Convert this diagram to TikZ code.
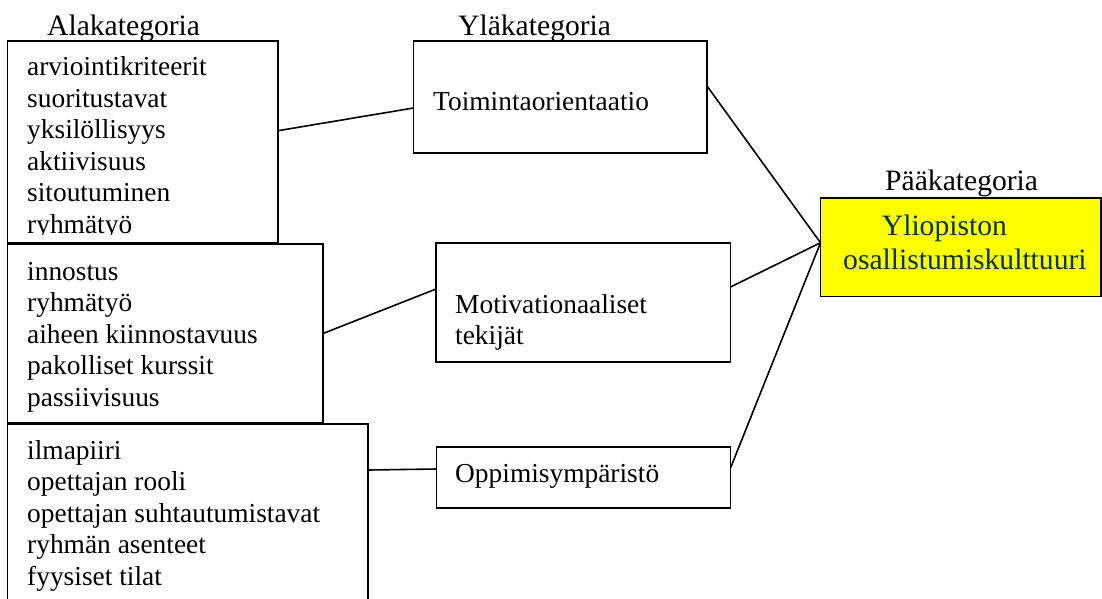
\documentclass[tikz,border=0pt]{standalone}
\usepackage{fontspec}
\setmainfont{Liberation Serif}
\definecolor{mainfill}{RGB}{255,255,0}
\definecolor{maintext}{RGB}{0,51,0}
\begin{document}
\begin{tikzpicture}[x=1pt,y=-1pt,
  box/.style={draw, line width=1.8pt, rectangle, inner sep=0pt, outer sep=0pt,
              anchor=north west, fill=white},
  body/.style={font=\fontsize{27.4}{31.5}\selectfont, inner sep=0pt, align=left},
  head/.style={font=\fontsize{29.6}{34}\selectfont, inner sep=0pt},
  link/.style={line width=1.6pt}]
\useasboundingbox (0,0) rectangle (1102,598);

% column headings
\node[head, anchor=base west] (hAla) at (47,35) {Alakategoria};
\node[head, anchor=base west] (hYla) at (458,35) {Yläkategoria};
\node[head, anchor=base west] (hPaa) at (885,190) {Pääkategoria};

% sub-category lists
\node[box, minimum width=270.5pt, minimum height=202pt] (subA) at (7.5,41) {};
\begin{scope}
  \clip (7.5,41) rectangle (278,234.5);
  \node[body, anchor=north west] (subAtxt) at (27,53.25)
    {\strut arviointikriteerit\\ \strut suoritustavat\\ \strut yksilöllisyys\\
     \strut aktiivisuus\\ \strut sitoutuminen\\ \strut ryhmätyö};
\end{scope}

\node[box, minimum width=315.5pt, minimum height=179pt] (subB) at (7.5,244) {};
\node[body, anchor=north west] (subBtxt) at (27,257.95)
  {\strut innostus\\ \strut ryhmätyö\\ \strut aiheen kiinnostavuus\\
   \strut pakolliset kurssit\\ \strut passiivisuus};

\node[box, minimum width=360.5pt, minimum height=196pt] (subC) at (7.5,424) {};
\node[body, anchor=north west] (subCtxt) at (27,436.95)
  {\strut ilmapiiri\\ \strut opettajan rooli\\ \strut opettajan suhtautumistavat\\
   \strut ryhmän asenteet\\ \strut fyysiset tilat};

% upper categories
\node[box, minimum width=293.5pt, minimum height=112pt] (upA) at (413.5,41) {};
\node[body, anchor=base west] (upAtxt) at (433,110) {Toimintaorientaatio};

\node[box, minimum width=294.5pt, minimum height=119pt] (upB) at (436,243) {};
\node[body, anchor=north west] (upBtxt) at (455,290.95)
  {\strut Motivationaaliset\\ \strut tekijät};

\node[box, minimum width=294pt, minimum height=61pt] (upC) at (436.5,447) {};
\node[body, anchor=base west] (upCtxt) at (455,482) {Oppimisympäristö};

% main category
\node[box, fill=mainfill, minimum width=280.5pt, minimum height=98.5pt] (main) at (820.5,198) {};
\node[head, align=left, text=maintext, anchor=north west] (maintxt) at (843,211.2)
  {\strut\hspace*{38.7pt}Yliopiston\\ \strut osallistumiskulttuuri};

% connectors
\draw[link] ([yshift=11.3pt]subA.east) -- ([yshift=-11pt]upA.west);
\draw[link] (subB.east) -- ([yshift=13.5pt]upB.west);
\draw[link] ([yshift=52pt]subC.east) -- ([yshift=8.5pt]upC.west);
\draw[link] ([yshift=11pt]upA.east) -- ([yshift=4.5pt]main.west);
\draw[link] ([yshift=15.5pt]upB.east) -- ([yshift=4.5pt]main.west);
\draw[link] ([yshift=9.5pt]upC.east) -- ([yshift=4.5pt]main.west);
\end{tikzpicture}
\end{document}
